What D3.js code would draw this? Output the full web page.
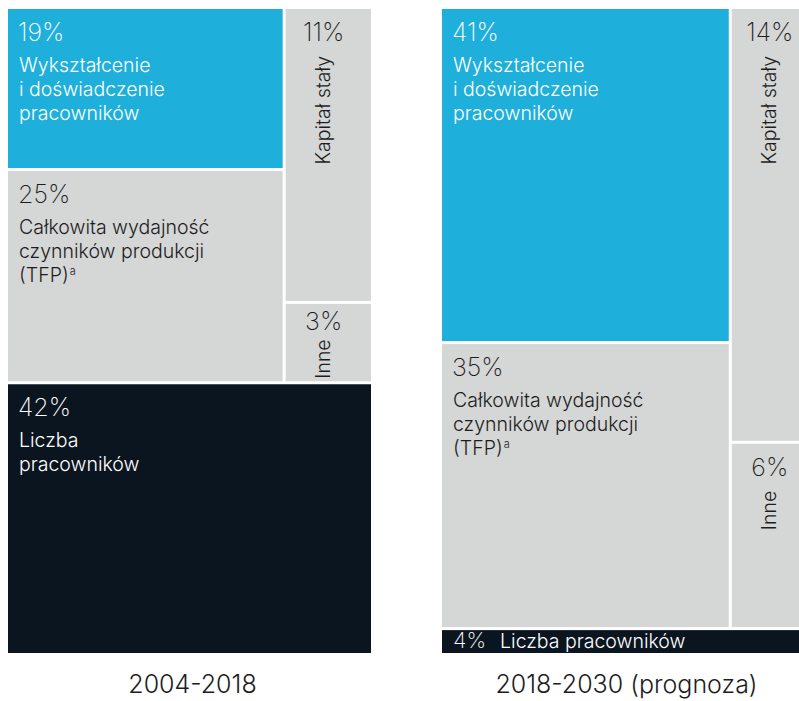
<!DOCTYPE html>
<html>
<head>
<meta charset="utf-8">
<script src="https://cdn.jsdelivr.net/npm/d3@7"></script>
<style>
  html, body { margin: 0; padding: 0; background: #fff; }
  svg { display: block; }
  text { font-family: Inter, "Noto Sans", sans-serif; }
</style>
</head>
<body>
<svg id="chart" width="799" height="701"></svg>
<script>
// Growth-source shares, two periods
const periods = ["2004-2018", "2018-2030 (prognoza)"];
const factorKeys = ["edu", "tfp", "capital", "other", "labour"];
const factorLabels = [
  ["Wykształcenie", "i doświadczenie", "pracowników"],
  ["Całkowita wydajność", "czynników produkcji", "(TFP)"],
  ["Kapitał stały"],
  ["Inne"],
  ["Liczba", "pracowników"]
];
const footnoteMarks = ["", "a", "", "", ""];
const shares2004 = [19, 25, 11, 3, 42];
const shares2030 = [41, 35, 14, 6, 4];

const fillColor = { edu: "#1eafdb", tfp: "#d5d6d6", capital: "#d5d6d6", other: "#d5d6d6", labour: "#0b1520" };
const inkColor  = { edu: "#ffffff", tfp: "#1d1d1d", capital: "#1d1d1d", other: "#1d1d1d", labour: "#ffffff" };

const svg = d3.select("#chart");
const panelW = 363, panelH = 644, panelTop = 9;
const panelX = [8, 442];
const pctSize = 25, pctWeight = 250, labelSize = 19.5, labelWeight = 300;

// Nesting: [ [ [edu, tfp], [capital, other] ], labour ]
function buildTree(shares) {
  const leaf = i => ({ key: factorKeys[i], idx: i, value: shares[i] });
  return {
    children: [
      { children: [
          { children: [leaf(0), leaf(1)] },
          { children: [leaf(2), leaf(3)] }
      ] },
      leaf(4)
    ]
  };
}

// stack vertically at even depths, side by side at odd depths
const tile = (node, x0, y0, x1, y1) =>
  (node.depth % 2 === 0 ? d3.treemapSlice : d3.treemapDice)(node, x0, y0, x1, y1);

const layout = d3.treemap()
  .size([panelW, panelH])
  .tile(tile)
  .paddingInner(3)
  .round(false);

[shares2004, shares2030].forEach((shares, p) => {
  const root = d3.hierarchy(buildTree(shares)).sum(d => d.value || 0);
  layout(root);

  const g = svg.append("g").attr("transform", `translate(${panelX[p]},${panelTop})`);

  const cell = g.selectAll("g.cell")
    .data(root.leaves())
    .join("g")
    .attr("class", "cell");

  cell.append("rect")
    .attr("x", d => d.x0)
    .attr("y", d => d.y0)
    .attr("width", d => d.x1 - d.x0)
    .attr("height", d => d.y1 - d.y0)
    .attr("fill", d => fillColor[d.data.key]);

  cell.each(function (d) {
    const c = d3.select(this);
    const w = d.x1 - d.x0, h = d.y1 - d.y0;
    const ink = inkColor[d.data.key];
    const pct = d.data.value + "%";
    const lines = factorLabels[d.data.idx];
    const mark = footnoteMarks[d.data.idx];

    if (h < 40) {
      // thin strip: value and name on one line
      const base = d.y1 - 5;
      const t = c.append("text")
        .attr("x", d.x0 + 11).attr("y", base)
        .attr("fill", ink).attr("font-size", 22).attr("font-weight", pctWeight)
        .text(pct);
      const tw = t.node().getComputedTextLength();
      c.append("text")
        .attr("x", d.x0 + 11 + tw + 14).attr("y", base)
        .attr("fill", ink).attr("font-size", labelSize).attr("font-weight", labelWeight)
        .text(lines.join(" "));
    } else if (w < 120) {
      // narrow column: centred value, name rotated
      const base = d.y0 + Math.min(32, h / 3);
      c.append("text")
        .attr("x", d.x0 + 38).attr("y", base)
        .attr("text-anchor", "middle")
        .attr("fill", ink).attr("font-size", pctSize).attr("font-weight", pctWeight)
        .text(pct);
      c.append("text")
        .attr("transform", `translate(${d.x0 + 44},${base + Math.min(15, h / 8)}) rotate(-90)`)
        .attr("text-anchor", "end")
        .attr("fill", ink).attr("font-size", labelSize).attr("font-weight", labelWeight)
        .text(lines.join(" "));
    } else {
      c.append("text")
        .attr("x", d.x0 + 10).attr("y", d.y0 + 32)
        .attr("fill", ink).attr("font-size", pctSize).attr("font-weight", pctWeight)
        .text(pct);
      const t = c.append("text")
        .attr("fill", ink).attr("font-size", labelSize).attr("font-weight", labelWeight);
      lines.forEach((ln, i) => {
        t.append("tspan")
          .attr("x", d.x0 + 11).attr("y", d.y0 + 63 + i * 24)
          .text(ln);
        if (mark && i === lines.length - 1) {
          t.append("tspan")
            .attr("dx", 1).attr("dy", -7)
            .attr("font-size", 11)
            .text(mark);
        }
      });
    }
  });

  svg.append("text")
    .attr("x", panelX[p] + panelW / 2 + 3)
    .attr("y", 693)
    .attr("text-anchor", "middle")
    .attr("fill", "#1d1d1d")
    .attr("font-size", 25)
    .attr("font-weight", 300)
    .text(periods[p]);
});
</script>
</body>
</html>
